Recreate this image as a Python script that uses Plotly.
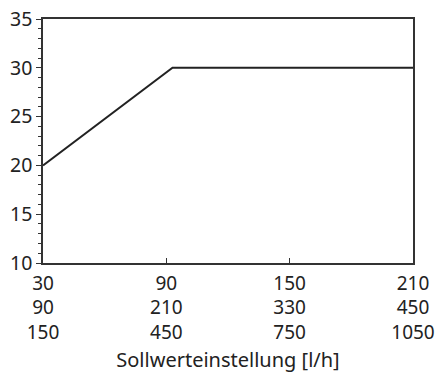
import plotly.graph_objects as go

x_vals = [30, 93, 210]
y_vals = [20, 30, 30]
x_tickvals = [30, 90, 150, 210]
x_row1 = ["30", "90", "150", "210"]
x_row2 = ["90", "210", "330", "450"]
x_row3 = ["150", "450", "750", "1050"]
y_tickvals = [10, 15, 20, 25, 30, 35]
x_title = "Sollwerteinstellung [l/h]"

ticktext = [f"{a}<br>{b}<br>{c}" for a, b, c in zip(x_row1, x_row2, x_row3)]

fig = go.Figure()
fig.add_trace(go.Scatter(x=x_vals, y=y_vals, mode="lines",
                         line=dict(color="#222222", width=2), showlegend=False,
                         cliponaxis=False))

fig.update_layout(
    width=439, height=376,
    margin=dict(l=43, r=26, t=19, b=113),
    paper_bgcolor="white", plot_bgcolor="white",
    font=dict(family="Noto Sans, sans-serif", size=19, color="#222222"),
)
fig.update_xaxes(
    range=[30, 210], tickvals=x_tickvals, ticktext=ticktext, automargin=False,
    showgrid=False, zeroline=False, showline=True, linecolor="#333333", linewidth=1.5,
    mirror=True, ticks="inside", ticklen=5, tickcolor="#333333",
    ticklabeloverflow="allow", ticklabelstandoff=2,
    tickfont=dict(size=19), title=dict(text=x_title, font=dict(size=20), standoff=9),
)
fig.update_yaxes(
    range=[10, 35], tickvals=y_tickvals, automargin=False,
    showgrid=False, zeroline=False, showline=True, linecolor="#333333", linewidth=1.5,
    mirror=True, ticks="outside", ticklen=5, tickcolor="#333333",
    ticklabeloverflow="allow",
    tickfont=dict(size=19.5),
    minor=dict(dtick=1, tick0=10, ticks="outside", ticklen=3, tickcolor="#333333", showgrid=False),
)
fig.write_html("out.html", config={"displayModeBar": False},
               post_script="document.body.style.margin='0';document.body.style.overflow='hidden';")
